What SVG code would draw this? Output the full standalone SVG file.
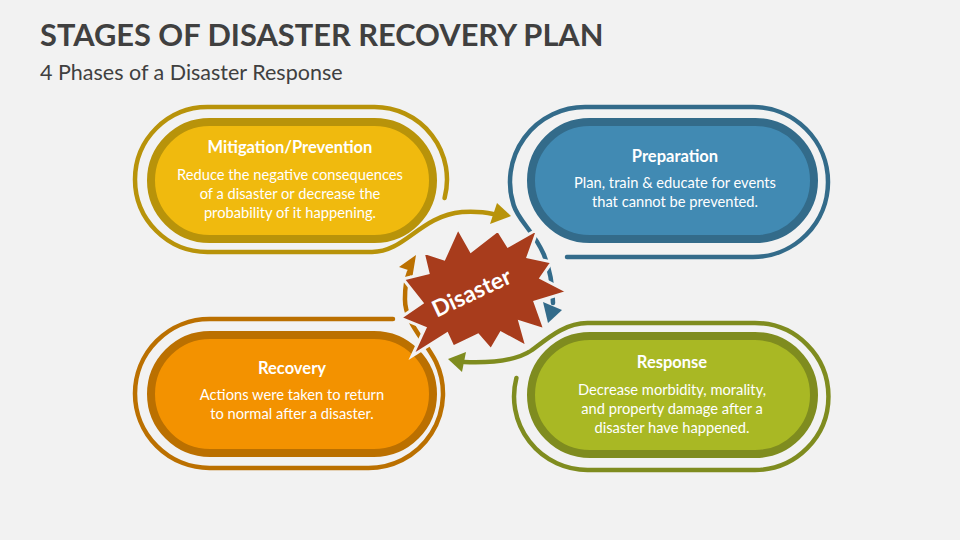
<svg xmlns="http://www.w3.org/2000/svg" width="960" height="540" viewBox="0 0 960 540">
  <style>
    .ring { fill: none; stroke-width: 4.5; stroke-linecap: round; stroke-linejoin: round; }
    .title { font-family: Lato, "Liberation Sans", sans-serif; font-weight: 700; fill: #404040; }
    .sub { font-family: Lato, "Liberation Sans", sans-serif; fill: #404040; }
    .nt { font-family: Lato, "Liberation Sans", sans-serif; font-weight: 700; fill: #ffffff; font-size: 16.5px; text-anchor: middle; }
    .nb { font-family: Lato, "Liberation Sans", sans-serif; fill: #ffffff; font-size: 14.7px; text-anchor: middle; }
    .y { stroke: #B8930A; }
    .b { stroke: #336B8A; }
    .g { stroke: #7F8C1F; }
    .o { stroke: #BB7000; }
  </style>
  <rect width="960" height="540" fill="#F2F2F2"/>
  <text class="title" x="40" y="46" font-size="30.8">STAGES OF DISASTER RECOVERY PLAN</text>
  <text class="sub" x="40" y="80" font-size="21.5">4 Phases of a Disaster Response</text>

  <g id="connectors">
    <!-- Mitigation ring to Preparation -->
    <path class="ring y" d="M 444.6 198 A 72.5 72.5 0 0 0 374.5 107 L 207.5 107 A 72.5 72.5 0 0 0 207.5 252 L 372 252 C 405 252 420 216 462 212 Q 480 211 493 214"/>
    <polygon fill="#B8930A" points="511,216 497,203 490,224"/>
    <!-- Preparation ring to Response -->
    <path class="ring b" d="M 567 257 L 753 257 A 75 75 0 0 0 753 107 L 585 107 A 75 75 0 0 0 513.6 205 C 521 229 552 240 553 303"/>
    <polygon fill="#336B8A" points="548,323 543,302 562,310"/>
    <!-- Response ring to Recovery -->
    <path class="ring g" d="M 516.4 378 A 73.5 73.5 0 0 0 587.5 470 L 755 470 A 73.5 73.5 0 0 0 755 323 L 587.5 323 C 565 323 548 338 532 350 Q 512 364 464 362"/>
    <polygon fill="#7F8C1F" points="448,359 466,352 462,372"/>
    <!-- Recovery ring to Mitigation -->
    <path class="ring o" d="M 393 319 L 209.5 319 A 74.5 74.5 0 0 0 209.5 468 L 368.5 468 A 74.5 74.5 0 0 0 436 362 C 425 340 404 322 405 298 Q 405 282 409 272"/>
    <polygon fill="#BB7000" points="416,255 399,267 408,270 412,279"/>
  </g>

  <g id="mitigation">
    <rect x="151" y="122" width="282" height="117" rx="58.5" fill="#F0BA0E" stroke="#B8930A" stroke-width="8"/>
    <text class="nt" x="290" y="153">Mitigation/Prevention</text>
    <text class="nb" x="290" y="180">Reduce the negative consequences</text>
    <text class="nb" x="290" y="199">of a disaster or decrease the</text>
    <text class="nb" x="290" y="218">probability of it happening.</text>
  </g>

  <g id="preparation">
    <rect x="531" y="122" width="283" height="117" rx="58.5" fill="#418AB3" stroke="#336B8A" stroke-width="8"/>
    <text class="nt" x="675" y="162">Preparation</text>
    <text class="nb" x="675" y="188">Plan, train &amp; educate for events</text>
    <text class="nb" x="675" y="207">that cannot be prevented.</text>
  </g>

  <g id="response">
    <rect x="531" y="336" width="283" height="118" rx="59" fill="#A9B824" stroke="#7F8C1F" stroke-width="8"/>
    <text class="nt" x="672" y="368">Response</text>
    <text class="nb" x="672" y="395">Decrease morbidity, morality,</text>
    <text class="nb" x="672" y="414">and property damage after a</text>
    <text class="nb" x="672" y="433">disaster have happened.</text>
  </g>

  <g id="recovery">
    <rect x="151" y="335" width="282" height="118" rx="59" fill="#F39200" stroke="#BB7000" stroke-width="8"/>
    <text class="nt" x="292" y="374">Recovery</text>
    <text class="nb" x="292" y="400">Actions were taken to return</text>
    <text class="nb" x="292" y="419">to normal after a disaster.</text>
  </g>

  <g id="disaster">
    <polygon fill="#A83C1C" stroke="#F2F2F2" stroke-width="3" stroke-linejoin="miter" points="458,228 471,251 498,230 508,246 538,229 528,257 552,262 541,278 568,292 535,302 545,330 520,322 527,347 501,333 491,350 478,335 453,347 447,334 412,356 425,328 400,318 422,303 403,279 428,273 423,252 444,259"/>
    <text x="475" y="300" transform="rotate(-25 475 300)" font-family="Lato, 'Liberation Sans', sans-serif" font-weight="700" font-size="23" fill="#ffffff" text-anchor="middle">Disaster</text>
  </g>
</svg>
